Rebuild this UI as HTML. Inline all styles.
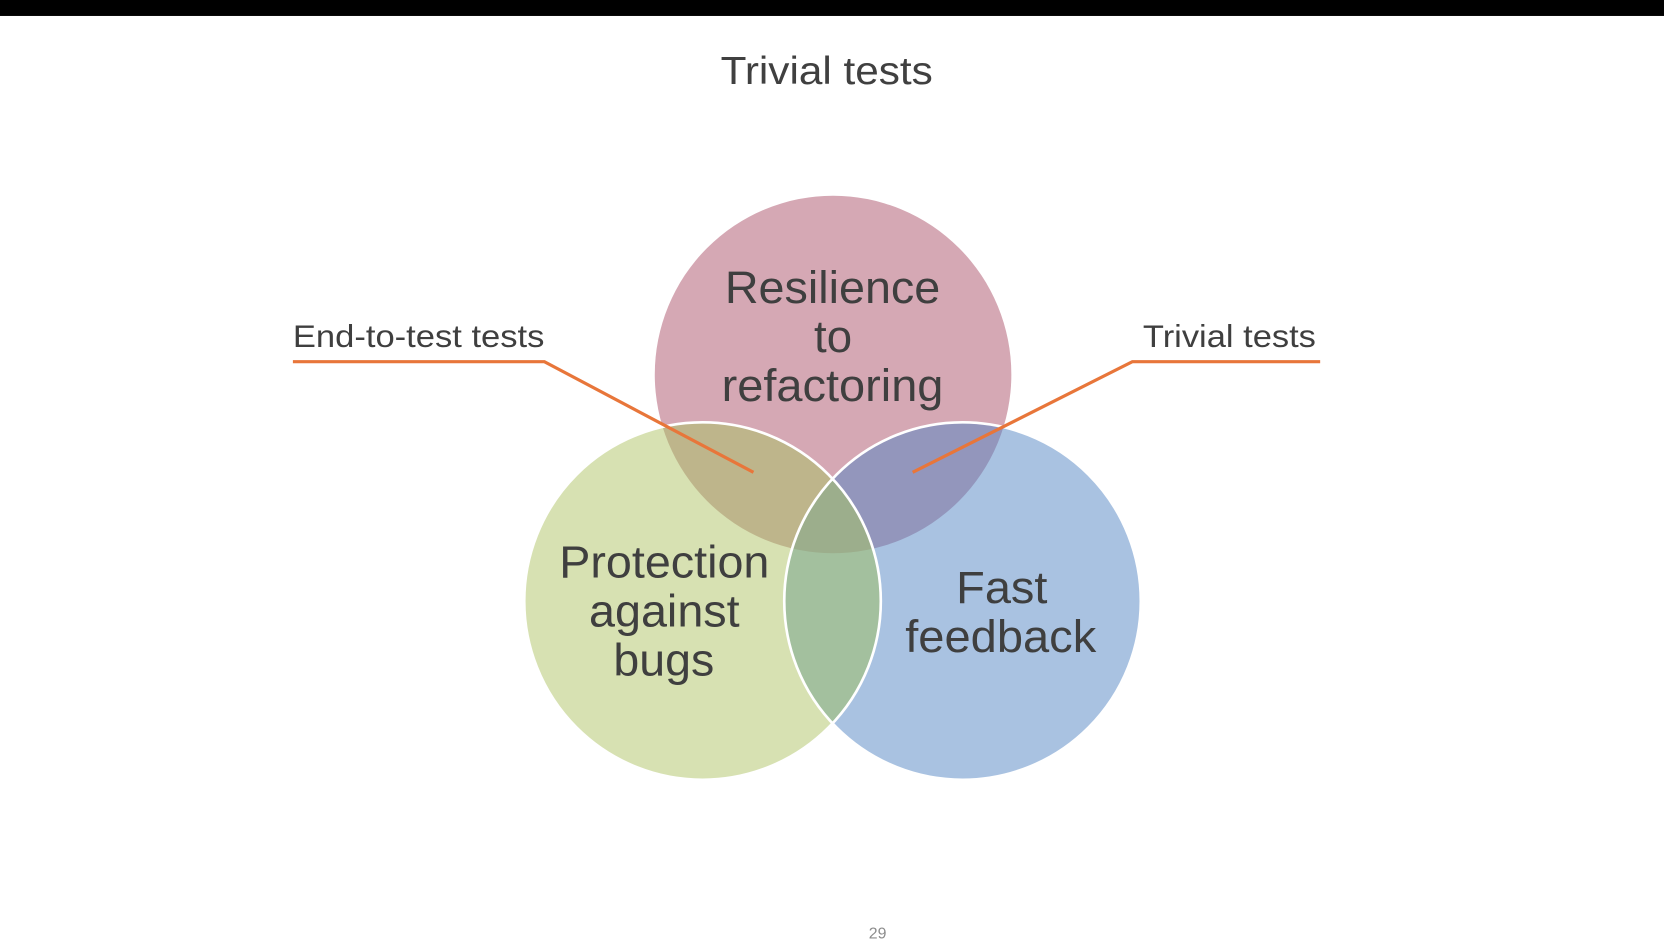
<!DOCTYPE html>
<html><head><meta charset="utf-8"><style>
html,body{margin:0;padding:0;background:#fff;}
svg{display:block;}
</style></head><body>
<svg width="1664" height="950" viewBox="0 0 1568 893" preserveAspectRatio="none" xmlns="http://www.w3.org/2000/svg">
<defs>
<clipPath id="cT"><circle cx="785" cy="352" r="168"/></clipPath>
<clipPath id="cL"><circle cx="662" cy="565" r="168"/></clipPath>
<clipPath id="cR"><circle cx="907" cy="565" r="168"/></clipPath>
</defs>
<rect x="0" y="0" width="1568" height="15" fill="#000"/>
<text x="679" y="79" font-family="Liberation Sans, sans-serif" font-size="37" fill="#404040" textLength="200" lengthAdjust="spacingAndGlyphs">Trivial tests</text>

<circle cx="785" cy="352" r="168" fill="#d5a8b4"/>
<circle cx="662" cy="565" r="168" fill="#d7e1b2"/>
<circle cx="907" cy="565" r="168" fill="#a9c2e1"/>
<g clip-path="url(#cT)"><circle cx="662" cy="565" r="168" fill="#beb58b"/><circle cx="907" cy="565" r="168" fill="#9396bc"/></g>
<g clip-path="url(#cL)"><circle cx="907" cy="565" r="168" fill="#a3c09e"/></g>
<g clip-path="url(#cT)"><g clip-path="url(#cL)"><circle cx="907" cy="565" r="168" fill="#9cae8c"/></g></g>
<circle cx="662" cy="565" r="168" fill="none" stroke="#fff" stroke-width="2.5"/>
<circle cx="907" cy="565" r="168" fill="none" stroke="#fff" stroke-width="2.5"/>

<g font-family="Liberation Sans, sans-serif" font-size="43" fill="#3f3f3f" lengthAdjust="spacingAndGlyphs">
<text x="683" y="285" textLength="203" lengthAdjust="spacingAndGlyphs">Resilience</text>
<text x="785" y="331" text-anchor="middle">to</text>
<text x="680" y="377" textLength="209" lengthAdjust="spacingAndGlyphs">refactoring</text>
<text x="527" y="543" textLength="198" lengthAdjust="spacingAndGlyphs">Protection</text>
<text x="555" y="589" textLength="142" lengthAdjust="spacingAndGlyphs">against</text>
<text x="578" y="635" textLength="95" lengthAdjust="spacingAndGlyphs">bugs</text>
<text x="901" y="567" textLength="86" lengthAdjust="spacingAndGlyphs">Fast</text>
<text x="853" y="613" textLength="180" lengthAdjust="spacingAndGlyphs">feedback</text>
</g>

<polyline points="276,340 513,340 710,444" fill="none" stroke="#e8763a" stroke-width="3"/>
<polyline points="1244,340 1067,340 860,444" fill="none" stroke="#e8763a" stroke-width="3"/>
<g font-family="Liberation Sans, sans-serif" font-size="30" fill="#3f3f3f">
<text x="276" y="326" textLength="237" lengthAdjust="spacingAndGlyphs">End-to-test tests</text>
<text x="1077" y="326" textLength="163" lengthAdjust="spacingAndGlyphs">Trivial tests</text>
</g>
<text x="827" y="882" font-family="Liberation Sans, sans-serif" font-size="15" fill="#8c8c8c" text-anchor="middle">29</text>
</svg>
</body></html>
